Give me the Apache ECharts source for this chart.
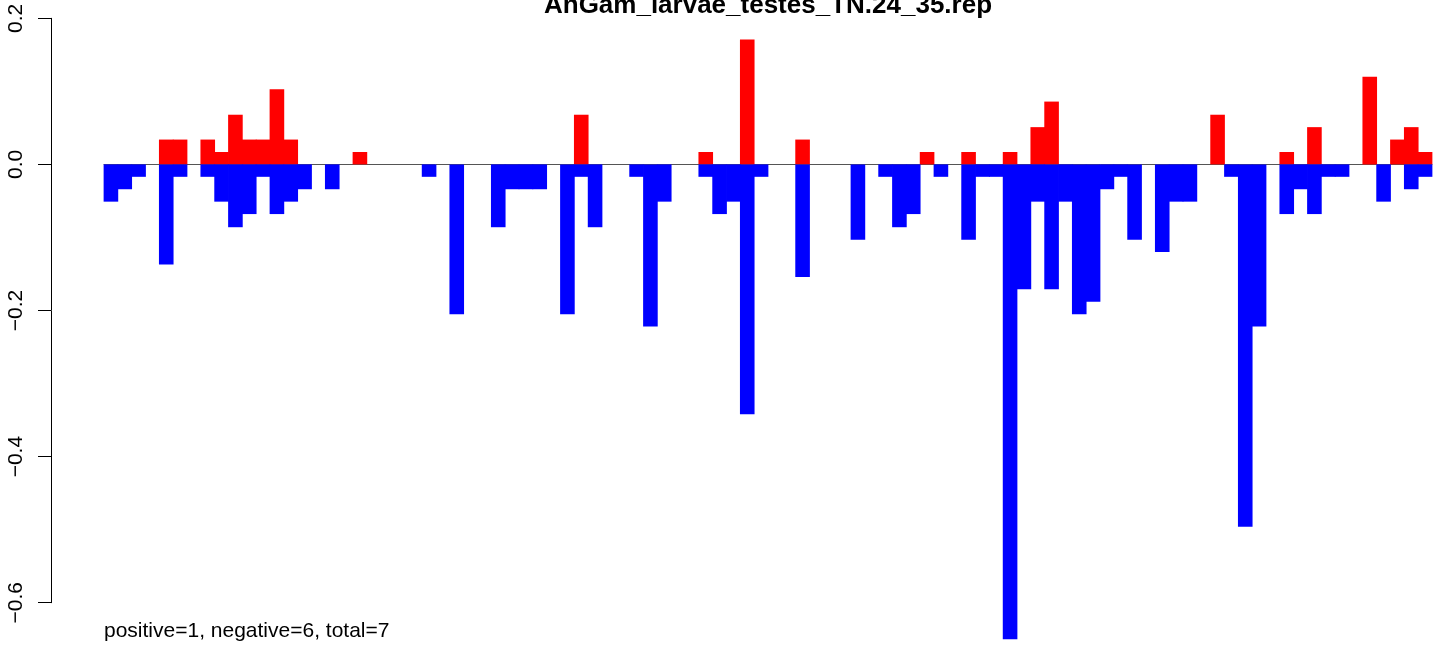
<!DOCTYPE html>
<html>
<head>
<meta charset="utf-8">
<script src="https://cdn.jsdelivr.net/npm/echarts@6/dist/echarts.min.js"></script>
<style>
html,body{margin:0;padding:0;background:#fff;}
#chart{width:1444px;height:647px;}
</style>
</head>
<body>
<div id="chart"></div>
<script>
const chartTitle = "AnGam_larvae_testes_TN.24_35.rep";
const footnote = "positive=1, negative=6, total=7";
const categories = ["1","2","3","4","5","6","7","8","9","10","11","12","13","14","15","16","17","18","19","20",
"21","22","23","24","25","26","27","28","29","30","31","32","33","34","35","36","37","38","39","40",
"41","42","43","44","45","46","47","48","49","50","51","52","53","54","55","56","57","58","59","60",
"61","62","63","64","65","66","67","68","69","70","71","72","73","74","75","76","77","78","79","80",
"81","82","83","84","85","86","87","88","89","90","91","92","93","94","95","96"];
const positiveValues = [
 0, 0, 0, 0, 0.034, 0.034, 0, 0.034, 0.017, 0.068,
 0.034, 0.034, 0.103, 0.034, 0, 0, 0, 0, 0.017, 0,
 0, 0, 0, 0, 0, 0, 0, 0, 0, 0,
 0, 0, 0, 0, 0.068, 0, 0, 0, 0, 0,
 0, 0, 0, 0.017, 0, 0, 0.171, 0, 0, 0,
 0.034, 0, 0, 0, 0, 0, 0, 0, 0, 0.017,
 0, 0, 0.017, 0, 0, 0.017, 0, 0.051, 0.086, 0,
 0, 0, 0, 0, 0, 0, 0, 0, 0, 0,
 0.068, 0, 0, 0, 0, 0.017, 0, 0.051, 0, 0,
 0, 0.120, 0, 0.034, 0.051, 0.017];
const negativeValues = [
 -0.051, -0.034, -0.017, 0, -0.137, -0.017, 0, -0.017, -0.051, -0.086,
 -0.068, -0.017, -0.068, -0.051, -0.034, 0, -0.034, 0, 0, 0,
 0, 0, 0, -0.017, 0, -0.205, 0, 0, -0.086, -0.034,
 -0.034, -0.034, 0, -0.205, -0.017, -0.086, 0, 0, -0.017, -0.222,
 -0.051, 0, 0, -0.017, -0.068, -0.051, -0.342, -0.017, 0, 0,
 -0.154, 0, 0, 0, -0.103, 0, -0.017, -0.086, -0.068, 0,
 -0.017, 0, -0.103, -0.017, -0.017, -0.650, -0.171, -0.051, -0.171, -0.051,
 -0.205, -0.188, -0.034, -0.017, -0.103, 0, -0.120, -0.051, -0.051, 0,
 0, -0.017, -0.496, -0.222, 0, -0.068, -0.034, -0.068, -0.017, -0.017,
 0, 0, -0.051, 0, -0.034, -0.017];
const yTicks = [-0.6, -0.4, -0.2, 0.0, 0.2];

// zero-height bins are not drawn
const toSeries = arr => arr.map(v => (v === 0 ? '-' : v));

const chart = echarts.init(document.getElementById('chart'), null, {renderer:'canvas'});
const fontFam = '"Liberation Sans", Arial, Helvetica, sans-serif';
chart.setOption({
  animation: false,
  backgroundColor: '#ffffff',
  grid: {left: 104, right: 12, top: 18.3, bottom: 44.3, containLabel: false},
  graphic: [
    {type:'text', x: 768, y: 5.5, style: {text: chartTitle, align:'center', verticalAlign:'middle', font: 'bold 26px ' + fontFam, fill:'#000'}},
    {type:'text', x: 104, y: 631, style: {text: footnote, align:'left', verticalAlign:'middle', font: '21px ' + fontFam, fill:'#000'}}
  ],
  xAxis: {
    type: 'category',
    data: categories,
    axisLine: {show: true, onZero: true, lineStyle: {color: '#555555', width: 1}},
    axisTick: {show: false},
    axisLabel: {show: false},
    splitLine: {show: false}
  },
  yAxis: {
    type: 'value',
    min: yTicks[0], max: yTicks[yTicks.length-1], interval: 0.2,
    offset: 53,
    axisLine: {show: true, lineStyle: {color: '#000', width: 1}},
    axisTick: {show: true, length: 13, lineStyle: {color: '#000', width: 1}},
    splitLine: {show: false},
    axisLabel: {
      rotate: 90, margin: 24, color: '#000', fontSize: 21, fontFamily: fontFam,
      formatter: function(v){ const s = Math.abs(v).toFixed(1); return (v < -1e-9 ? '\u2212' : '') + s; }
    }
  },
  series: [
    {type:'bar', name:'positive', data: toSeries(positiveValues), barWidth: 14.6, barGap:'-100%', barCategoryGap:'0%', clip:false,
     itemStyle:{color:'#ff0000'}},
    {type:'bar', name:'negative', data: toSeries(negativeValues), barWidth: 14.6, barGap:'-100%', barCategoryGap:'0%', clip:false,
     itemStyle:{color:'#0000ff'}}
  ]
});
</script>
</body>
</html>
